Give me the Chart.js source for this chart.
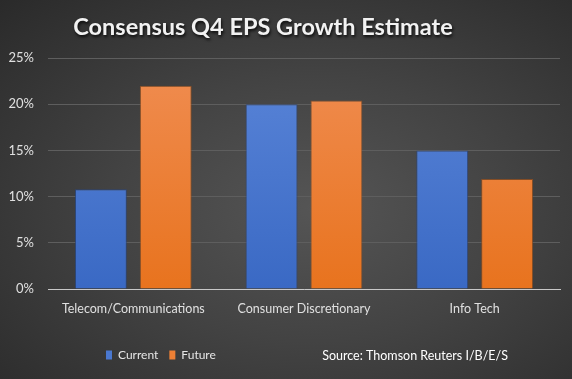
<!DOCTYPE html>
<html>
<head>
<meta charset="utf-8">
<script src="https://cdn.jsdelivr.net/npm/chart.js@4/dist/chart.umd.min.js"></script>
<style>
  html, body { margin: 0; padding: 0; }
  #wrap {
    width: 572px; height: 379px; position: relative;
    background: radial-gradient(ellipse at 55% 55%, #555555 0%, #434343 45%, #2a2a2a 100%);
  }
</style>
</head>
<body>
<div id="wrap"><canvas id="grafico" width="572" height="379"></canvas></div>
<script>
// Datos del gráfico
const categorias = ['Telecom/Communications', 'Consumer Discretionary', 'Info Tech'];
const actual = [10.8, 20.0, 15.0];
const futuro = [22.0, 20.4, 11.9];
const ticksY = [0, 5, 10, 15, 20, 25];

const titulo = 'Consensus Q4 EPS Growth Estimate';
const fuente = 'Source: Thomson Reuters I/B/E/S';
const fontBase = 'Lato, "Open Sans", sans-serif';

// Degradado vertical para las barras
const degradado = (ctx, area, arriba, abajo) => {
    if (!area) return abajo;
    const g = ctx.createLinearGradient(0, area.top, 0, area.bottom);
    g.addColorStop(0, arriba);
    g.addColorStop(1, abajo);
    return g;
};

// Título con sombra y nota de fuente
const textosExtra = {
    id: 'textosExtra',
    afterDraw(chart) {
        const ctx = chart.ctx;
        ctx.save();
        ctx.font = 'bold 23.5px ' + fontBase;
        ctx.textAlign = 'center';
        ctx.textBaseline = 'middle';
        ctx.shadowColor = 'rgba(0,0,0,0.8)';
        ctx.shadowOffsetX = 1;
        ctx.shadowOffsetY = 2;
        ctx.shadowBlur = 3;
        ctx.fillStyle = '#f2f2f2';
        ctx.fillText(titulo, 263, 27);
        ctx.restore();

        ctx.save();
        ctx.font = '12.5px ' + fontBase;
        ctx.textAlign = 'right';
        ctx.textBaseline = 'middle';
        ctx.fillStyle = '#ffffff';
        ctx.fillText(fuente, 508, 356);
        ctx.restore();
    }
};

// Mover la leyenda (izquierda y abajo) como en el original
const moverLeyenda = {
    id: 'moverLeyenda',
    afterLayout(chart) {
        const lg = chart.legend;
        lg.left = 95;
        lg.right = 300;
        lg.top += 18;
        lg.bottom += 18;
    }
};

const ctx = document.getElementById('grafico').getContext('2d');
new Chart(ctx, {
    type: 'bar',
    data: {
        labels: categorias,
        datasets: [{
            label: 'Current',
            data: actual,
            backgroundColor: (c) => degradado(c.chart.ctx, c.chart.chartArea, '#5a85d8', '#3a69c4'),
            borderColor: 'rgba(40,70,130,0.8)',
            borderWidth: 1,
            categoryPercentage: 0.76,
            barPercentage: 0.8
        }, {
            label: 'Future',
            data: futuro,
            backgroundColor: (c) => degradado(c.chart.ctx, c.chart.chartArea, '#f08d52', '#e8731e'),
            borderColor: 'rgba(150,80,30,0.8)',
            borderWidth: 1,
            categoryPercentage: 0.76,
            barPercentage: 0.8
        }]
    },
    options: {
        responsive: false,
        animation: false,
        layout: { padding: { top: 58, left: 0, right: 12, bottom: 26 } },
        plugins: {
            title: { display: false },
            tooltip: { enabled: false },
            legend: {
                position: 'bottom',
                align: 'start',
                labels: {
                    color: '#e6e6e6',
                    font: { family: fontBase, size: 12 },
                    boxWidth: 6,
                    boxHeight: 9,
                    padding: 11,
                    generateLabels: (chart) => chart.data.datasets.map((ds, i) => ({
                        text: ds.label,
                        fillStyle: i === 0 ? '#4a78d0' : '#ee8035',
                        strokeStyle: 'transparent',
                        lineWidth: 0,
                        fontColor: '#e6e6e6',
                        datasetIndex: i
                    }))
                }
            }
        },
        scales: {
            x: {
                grid: { display: false },
                border: { color: '#c8c8c8', width: 1 },
                ticks: {
                    color: '#e0e0e0',
                    font: { family: fontBase, size: 12.5 },
                    padding: 4,
                    maxRotation: 0
                },
                afterFit: (axis) => {
                    axis.paddingLeft = 0;
                    axis.paddingRight = 0;
                }
            },
            y: {
                min: 0,
                max: 25,
                afterBuildTicks: (axis) => { axis.ticks = ticksY.map(v => ({ value: v })); },
                border: { display: false },
                grid: { color: '#5e5e5e', drawTicks: false },
                ticks: {
                    color: '#e0e0e0',
                    font: { family: fontBase, size: 13 },
                    padding: 14,
                    callback: (v) => v + '%'
                },
                afterFit: (axis) => { axis.width = 48; }
            }
        }
    },
    plugins: [textosExtra, moverLeyenda]
});
</script>
</body>
</html>
